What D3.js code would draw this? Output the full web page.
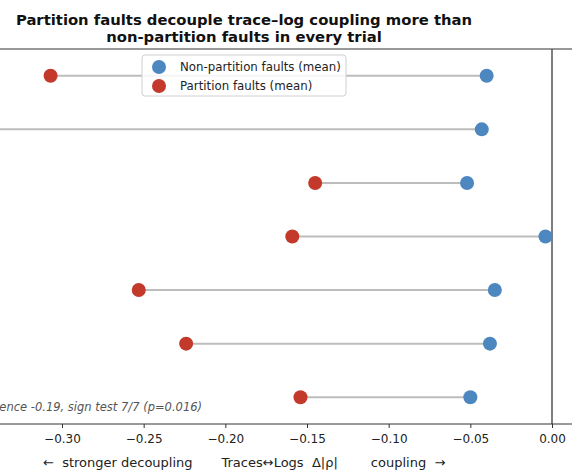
<!DOCTYPE html>
<html>
<head>
<meta charset="utf-8">
<script src="https://cdn.jsdelivr.net/npm/d3@7"></script>
<style>
  body { margin: 0; background: #fff; }
  svg { font-family: "DejaVu Sans", sans-serif; display: block; }
</style>
</head>
<body>
<div id="chart"></div>
<script>
// one row per trial, top to bottom
var trials = ["T1", "T2", "T3", "T4", "T5", "T6", "T7"];
var nonPartition = [-0.040, -0.043, -0.052, -0.004, -0.035, -0.038, -0.050];
var partition = [-0.307, -0.350, -0.145, -0.159, -0.253, -0.224, -0.154];
var tickValues = [-0.30, -0.25, -0.20, -0.15, -0.10, -0.05, 0.00];
var titleLines = ["Partition faults decouple trace\u2013log coupling more than",
                  "non-partition faults in every trial"];
var note = "Mean difference -0.19, sign test 7/7 (p=0.016)";
var xLabel = "\u2190  stronger decoupling       Traces\u2194Logs  \u0394|\u03c1|        coupling  \u2192";

var width = 572, height = 472,
    plotTop = 49, plotBottom = 424;

var blue = "#4d87c0", red = "#c3392c";

var svg = d3.select("#chart")
    .append("svg")
    .attr("width", width)
    .attr("height", height);

// the axes are wider than the window, the left part falls off screen
var x = d3.scaleLinear()
    .domain([-0.30, 0.00])
    .range([62, 552]);

var y = d3.scaleBand()
    .domain(trials)
    .range([plotTop, plotBottom]);

var rows = trials.map(function(t, i) {
    return { trial: t, a: nonPartition[i], b: partition[i] };
});

// top spine
svg.append("line")
    .attr("x1", 0).attr("x2", width)
    .attr("y1", plotTop).attr("y2", plotTop)
    .attr("stroke", "#333").attr("stroke-width", 1);

// connectors
svg.selectAll(".conn")
    .data(rows)
    .enter().append("line")
    .attr("x1", d => x(d.b))
    .attr("x2", d => x(d.a))
    .attr("y1", d => y(d.trial) + y.bandwidth() / 2)
    .attr("y2", d => y(d.trial) + y.bandwidth() / 2)
    .attr("stroke", "#bdbdbd")
    .attr("stroke-width", 2);

// zero line
svg.append("line")
    .attr("x1", x(0)).attr("x2", x(0))
    .attr("y1", plotTop).attr("y2", plotBottom)
    .attr("stroke", "#555").attr("stroke-width", 1.5);

svg.selectAll(".dot-a")
    .data(rows)
    .enter().append("circle")
    .attr("cx", d => x(d.a))
    .attr("cy", d => y(d.trial) + y.bandwidth() / 2)
    .attr("r", 7)
    .attr("fill", blue);

svg.selectAll(".dot-b")
    .data(rows)
    .enter().append("circle")
    .attr("cx", d => x(d.b))
    .attr("cy", d => y(d.trial) + y.bandwidth() / 2)
    .attr("r", 7)
    .attr("fill", red);

// x axis
var xAxis = d3.axisBottom(x)
    .tickValues(tickValues)
    .tickFormat(d3.format(".2f"))
    .tickSize(4)
    .tickPadding(6);

var gx = svg.append("g")
    .attr("transform", "translate(0," + plotBottom + ")")
    .call(xAxis);
gx.select(".domain").remove();
gx.selectAll("text")
    .text(d => d3.format(".2f")(d).replace("-", "\u2212"))
    .attr("font-size", 12)
    .attr("fill", "#222")
    .attr("font-family", "DejaVu Sans, sans-serif");
gx.selectAll("line").attr("stroke", "#333");

svg.append("line")
    .attr("x1", 0).attr("x2", width)
    .attr("y1", plotBottom).attr("y2", plotBottom)
    .attr("stroke", "#333").attr("stroke-width", 1);

// x label
svg.append("text")
    .attr("x", 43)
    .attr("y", 467)
    .attr("font-size", 13)
    .attr("fill", "#222")
    .style("white-space", "pre")
    .text(xLabel);

// annotation, runs off the left edge
svg.append("text")
    .attr("x", 202)
    .attr("y", 411)
    .attr("text-anchor", "end")
    .attr("font-size", 11.5)
    .attr("font-style", "italic")
    .attr("fill", "#555")
    .text(note);

// title
svg.selectAll(".title")
    .data(titleLines)
    .enter().append("text")
    .attr("x", 244)
    .attr("y", (d, i) => 25 + i * 16.5)
    .attr("text-anchor", "middle")
    .attr("font-size", 14.8)
    .attr("font-weight", "bold")
    .attr("fill", "#111")
    .text(d => d);

// legend
var legend = svg.append("g").attr("transform", "translate(142,55)");
legend.append("rect")
    .attr("width", 204).attr("height", 41)
    .attr("rx", 3)
    .attr("fill", "rgba(255,255,255,0.85)")
    .attr("stroke", "#d0d0d0");

var legendItems = [["Non-partition faults (mean)", blue], ["Partition faults (mean)", red]];
legend.selectAll(".item")
    .data(legendItems)
    .enter().append("circle")
    .attr("cx", 17)
    .attr("cy", (d, i) => 12 + i * 19)
    .attr("r", 7)
    .attr("fill", d => d[1]);
legend.selectAll(".label")
    .data(legendItems)
    .enter().append("text")
    .attr("x", 38)
    .attr("y", (d, i) => 16 + i * 19)
    .attr("font-size", 11.8)
    .attr("fill", "#222")
    .text(d => d[0]);
</script>
</body>
</html>
